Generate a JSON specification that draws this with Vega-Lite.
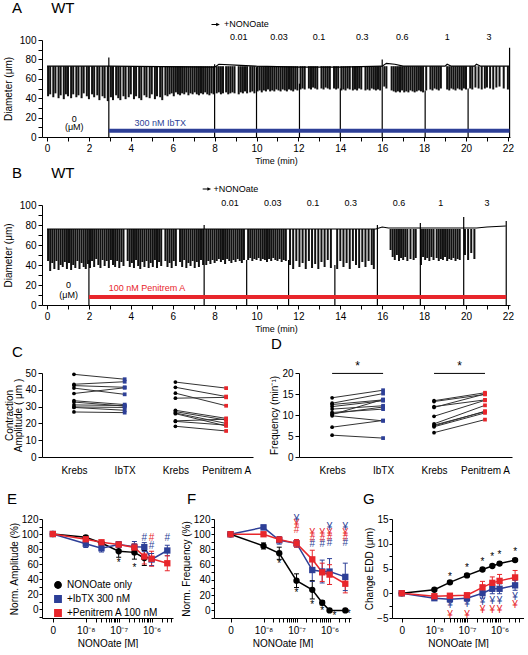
{
"$schema": "https://vega.github.io/schema/vega-lite/v6.json",
"padding": {"left": 3, "top": 1, "right": 0, "bottom": 0},
"background": "white",
"config": {
  "font": "Liberation Sans",
  "view": {"stroke": null},
  "axis": {"domainColor": "black", "tickColor": "black", "labelColor": "black", "titleColor": "black", "grid": false, "labelFontSize": 10, "titleFontSize": 10, "titleFontWeight": "normal", "tickSize": 4, "domainWidth": 1, "tickWidth": 1, "labelFont": "Liberation Sans", "titleFont": "Liberation Sans", "labelOverlap": false, "labelBound": false},
  "title": {"fontSize": 15, "fontWeight": "normal", "anchor": "start", "frame": "group", "font": "Liberation Sans", "color": "black"},
  "legend": {"labelFont": "Liberation Sans"}
},
"datasets": {
  "traceA": [
    {"t":0.05,"lo":42},{"t":0.15,"lo":44},{"t":0.3,"lo":41},{"t":0.4,"lo":45},{"t":0.55,"lo":40},{"t":0.65,"lo":43},{"t":0.8,"lo":39},{"t":0.9,"lo":44},{"t":1.0,"lo":42},{"t":1.15,"lo":40},{"t":1.25,"lo":44},{"t":1.4,"lo":41},{"t":1.5,"lo":43},{"t":1.65,"lo":40},{"t":1.75,"lo":45},{"t":1.9,"lo":42},{"t":2.0,"lo":39},{"t":2.15,"lo":44},{"t":2.25,"lo":41},{"t":2.4,"lo":43},{"t":2.5,"lo":38},{"t":2.65,"lo":42},{"t":2.75,"lo":40},{"t":2.9,"lo":37},
    {"t":3.05,"lo":41},{"t":3.15,"lo":38},{"t":3.3,"lo":43},{"t":3.4,"lo":40},{"t":3.5,"lo":38},{"t":3.65,"lo":42},{"t":3.75,"lo":39},{"t":3.9,"lo":41},{"t":4.0,"lo":44},{"t":4.15,"lo":39},{"t":4.25,"lo":42},{"t":4.4,"lo":40},{"t":4.5,"lo":38},{"t":4.65,"lo":43},{"t":4.75,"lo":41},{"t":4.9,"lo":40},{"t":5.0,"lo":44},{"t":5.15,"lo":39},{"t":5.25,"lo":42},{"t":5.4,"lo":41},{"t":5.5,"lo":38},{"t":5.65,"lo":43},{"t":5.75,"lo":42},
    {"t":5.85,"lo":44},{"t":5.95,"lo":45},{"t":6.05,"lo":42},{"t":6.15,"lo":46},{"t":6.25,"lo":44},{"t":6.35,"lo":43},{"t":6.45,"lo":45},{"t":6.55,"lo":44},{"t":6.65,"lo":46},{"t":6.75,"lo":43},{"t":6.85,"lo":45},{"t":6.95,"lo":44},{"t":7.05,"lo":46},{"t":7.15,"lo":44},{"t":7.25,"lo":43},{"t":7.35,"lo":45},{"t":7.45,"lo":44},{"t":7.55,"lo":46},{"t":7.65,"lo":44},{"t":7.75,"lo":43},{"t":7.85,"lo":45},{"t":7.95,"lo":44},
    {"t":8.1,"lo":45},{"t":8.2,"lo":46},{"t":8.3,"lo":44},{"t":8.4,"lo":45},{"t":8.55,"lo":46},{"t":8.65,"lo":44},{"t":8.75,"lo":45},{"t":8.85,"lo":46},{"t":8.95,"lo":45},{"t":9.15,"lo":44},{"t":9.25,"lo":46},{"t":9.35,"lo":45},{"t":9.45,"lo":47},{"t":9.55,"lo":45},{"t":9.7,"lo":46},{"t":9.8,"lo":47},{"t":9.9,"lo":45},
    {"t":10.05,"lo":47},{"t":10.15,"lo":48},{"t":10.25,"lo":46},{"t":10.35,"lo":48},{"t":10.45,"lo":47},{"t":10.55,"lo":49},{"t":10.65,"lo":47},{"t":10.75,"lo":48},{"t":10.85,"lo":47},{"t":10.95,"lo":49},{"t":11.05,"lo":48},{"t":11.15,"lo":47},{"t":11.25,"lo":49},{"t":11.35,"lo":48},{"t":11.45,"lo":47},{"t":11.55,"lo":49},{"t":11.65,"lo":48},{"t":11.75,"lo":47},{"t":11.85,"lo":49},{"t":11.95,"lo":48},
    {"t":12.1,"lo":49},{"t":12.2,"lo":50},{"t":12.3,"lo":49},{"t":12.5,"lo":50},{"t":12.6,"lo":49},{"t":12.7,"lo":51},{"t":12.8,"lo":50},{"t":12.9,"lo":49},{"t":13.1,"lo":50},{"t":13.2,"lo":49},{"t":13.3,"lo":51},{"t":13.4,"lo":50},{"t":13.5,"lo":49},{"t":13.7,"lo":50},{"t":13.8,"lo":49},{"t":13.9,"lo":50},
    {"t":14.05,"lo":48},{"t":14.15,"lo":49},{"t":14.25,"lo":48},{"t":14.35,"lo":50},{"t":14.45,"lo":49},{"t":14.6,"lo":48},{"t":14.7,"lo":49},{"t":14.8,"lo":48},{"t":14.9,"lo":50},{"t":15.0,"lo":49},{"t":15.2,"lo":48},{"t":15.3,"lo":49},{"t":15.4,"lo":48},{"t":15.5,"lo":50},{"t":15.6,"lo":49},{"t":15.7,"lo":48},{"t":15.8,"lo":49},{"t":15.9,"lo":48},
    {"t":16.1,"lo":52},{"t":16.2,"lo":50},{"t":16.45,"lo":48},{"t":16.55,"lo":47},{"t":16.65,"lo":46},{"t":16.75,"lo":47},{"t":16.85,"lo":46},{"t":16.95,"lo":48},{"t":17.05,"lo":46},{"t":17.15,"lo":47},{"t":17.25,"lo":46},{"t":17.35,"lo":48},{"t":17.45,"lo":47},{"t":17.55,"lo":46},{"t":17.65,"lo":47},{"t":17.75,"lo":48},{"t":17.85,"lo":47},{"t":17.95,"lo":46},
    {"t":18.1,"lo":48},{"t":18.3,"lo":49},{"t":18.4,"lo":48},{"t":18.5,"lo":50},{"t":18.6,"lo":49},{"t":18.7,"lo":48},{"t":18.8,"lo":50},{"t":19.1,"lo":49},{"t":19.2,"lo":48},{"t":19.3,"lo":50},{"t":19.4,"lo":49},{"t":19.5,"lo":48},{"t":19.6,"lo":50},{"t":19.7,"lo":49},{"t":19.8,"lo":48},{"t":19.9,"lo":50},{"t":20.0,"lo":49},
    {"t":20.2,"lo":50},{"t":20.3,"lo":49},{"t":20.45,"lo":51},{"t":20.6,"lo":50},{"t":20.75,"lo":49},{"t":20.9,"lo":50},{"t":21.0,"lo":51},{"t":21.15,"lo":50},{"t":21.3,"lo":49},{"t":21.45,"lo":51},{"t":21.6,"lo":52},{"t":21.8,"lo":50},{"t":22.0,"lo":49}
  ],
  "topA": [{"t":0,"d":73},{"t":3,"d":73},{"t":8.0,"d":72},{"t":8.2,"d":75},{"t":9,"d":74},{"t":10,"d":73},{"t":12,"d":72},{"t":14,"d":72},{"t":16,"d":73},{"t":16.2,"d":76},{"t":16.6,"d":75},{"t":17,"d":73},{"t":19,"d":73},{"t":19.1,"d":75},{"t":19.3,"d":73},{"t":20.4,"d":73},{"t":20.5,"d":75},{"t":20.7,"d":73},{"t":22.1,"d":73}],
  "vlA": [{"t":2.95,"top":82},{"t":8.0,"top":75},{"t":10.0,"top":72},{"t":12.05,"top":55},{"t":14.0,"top":50},{"t":16.0,"top":80},{"t":18.05,"top":48},{"t":20.1,"top":50},{"t":22.08,"top":92}],
  "barA": [{"t0":2.95,"t1":22.08,"v":6.5}],
  "concA": [{"t":9.15,"v":103,"l":"0.01"},{"t":11.07,"v":103,"l":"0.03"},{"t":12.98,"v":103,"l":"0.1"},{"t":15.05,"v":103,"l":"0.3"},{"t":16.96,"v":103,"l":"0.6"},{"t":19.1,"v":103,"l":"1"},{"t":21.1,"v":103,"l":"3"},{"t":1.3,"v":19,"l":"0"},{"t":1.3,"v":10,"l":"(μM)"}],
  "nonoA": [{"t":8.45,"v":116,"l":"+NONOate"}],
  "arrowA": [{"t":8.05,"v":116}],
  "drugA": [{"t":5.4,"v":14.7,"l":"300 nM IbTX"}],
  "traceB": [
    {"t":0.05,"lo":44},{"t":0.15,"lo":34},{"t":0.25,"lo":42},{"t":0.35,"lo":36},{"t":0.45,"lo":44},{"t":0.55,"lo":35},{"t":0.65,"lo":40},{"t":0.75,"lo":38},{"t":0.85,"lo":43},{"t":0.95,"lo":36},{"t":1.05,"lo":42},{"t":1.15,"lo":35},{"t":1.25,"lo":40},{"t":1.35,"lo":37},{"t":1.45,"lo":44},{"t":1.55,"lo":36},{"t":1.65,"lo":42},{"t":1.75,"lo":38},{"t":1.85,"lo":36},{"t":1.95,"lo":41},
    {"t":2.05,"lo":37},{"t":2.15,"lo":44},{"t":2.25,"lo":38},{"t":2.35,"lo":46},{"t":2.45,"lo":40},{"t":2.55,"lo":37},{"t":2.65,"lo":45},{"t":2.75,"lo":39},{"t":2.85,"lo":44},{"t":2.95,"lo":37},{"t":3.05,"lo":45},{"t":3.15,"lo":40},{"t":3.25,"lo":38},{"t":3.35,"lo":44},{"t":3.45,"lo":37},{"t":3.55,"lo":43},{"t":3.65,"lo":39},{"t":3.85,"lo":44},{"t":3.95,"lo":38},{"t":4.05,"lo":42},{"t":4.15,"lo":37},{"t":4.25,"lo":45},{"t":4.35,"lo":39},{"t":4.45,"lo":36},{"t":4.55,"lo":43},{"t":4.65,"lo":38},{"t":4.75,"lo":44},{"t":4.85,"lo":37},{"t":4.95,"lo":42},{"t":5.05,"lo":38},{"t":5.15,"lo":45},{"t":5.25,"lo":37},{"t":5.35,"lo":43},{"t":5.45,"lo":39},{"t":5.65,"lo":44},{"t":5.75,"lo":38},{"t":5.85,"lo":42},{"t":5.95,"lo":37},{"t":6.05,"lo":44},{"t":6.15,"lo":39},{"t":6.35,"lo":43},{"t":6.45,"lo":38},{"t":6.55,"lo":45},{"t":6.65,"lo":37},{"t":6.75,"lo":42},{"t":6.85,"lo":39},{"t":6.95,"lo":44},{"t":7.05,"lo":37},{"t":7.15,"lo":43},{"t":7.25,"lo":38},{"t":7.35,"lo":45},{"t":7.45,"lo":40},
    {"t":7.6,"lo":40},{"t":7.7,"lo":44},{"t":7.8,"lo":41},{"t":7.9,"lo":45},{"t":8.0,"lo":42},{"t":8.1,"lo":44},{"t":8.2,"lo":46},{"t":8.3,"lo":43},{"t":8.4,"lo":45},{"t":8.5,"lo":41},{"t":8.6,"lo":46},{"t":8.7,"lo":44},{"t":8.8,"lo":42},{"t":8.9,"lo":45},{"t":9.0,"lo":43},{"t":9.1,"lo":46},{"t":9.2,"lo":44},{"t":9.3,"lo":42},{"t":9.4,"lo":45},
    {"t":9.6,"lo":45},{"t":9.7,"lo":47},{"t":9.8,"lo":44},{"t":9.9,"lo":46},{"t":10.0,"lo":45},{"t":10.1,"lo":47},{"t":10.2,"lo":44},{"t":10.3,"lo":46},{"t":10.4,"lo":45},{"t":10.5,"lo":43},{"t":10.6,"lo":46},{"t":10.7,"lo":44},{"t":10.8,"lo":47},{"t":10.9,"lo":45},{"t":11.0,"lo":44},{"t":11.1,"lo":46},{"t":11.2,"lo":43},{"t":11.3,"lo":45},{"t":11.4,"lo":44},
    {"t":11.6,"lo":40},{"t":11.75,"lo":36},{"t":11.9,"lo":44},{"t":12.05,"lo":38},{"t":12.2,"lo":42},{"t":12.35,"lo":36},{"t":12.5,"lo":44},{"t":12.65,"lo":37},{"t":12.8,"lo":41},{"t":12.95,"lo":36},{"t":13.1,"lo":43},{"t":13.25,"lo":38},{"t":13.4,"lo":45},{"t":13.55,"lo":37},
    {"t":13.85,"lo":36},{"t":14.0,"lo":44},{"t":14.15,"lo":38},{"t":14.3,"lo":42},{"t":14.45,"lo":36},{"t":14.6,"lo":44},{"t":14.75,"lo":40},{"t":14.9,"lo":37},{"t":15.05,"lo":43},{"t":15.2,"lo":38},{"t":15.35,"lo":44},{"t":15.5,"lo":40},{"t":15.6,"lo":36},
    {"t":16.4,"lo":55},{"t":16.5,"lo":48},{"t":16.6,"lo":45},{"t":16.7,"lo":50},{"t":16.8,"lo":44},{"t":16.9,"lo":47},{"t":17.0,"lo":45},{"t":17.1,"lo":48},{"t":17.2,"lo":44},{"t":17.35,"lo":46},{"t":17.5,"lo":45},{"t":17.6,"lo":47},
    {"t":17.85,"lo":40},{"t":17.95,"lo":48},{"t":18.05,"lo":45},{"t":18.15,"lo":47},{"t":18.25,"lo":44},{"t":18.35,"lo":48},{"t":18.45,"lo":45},{"t":18.6,"lo":47},{"t":18.7,"lo":44},{"t":18.8,"lo":46},{"t":18.9,"lo":45},{"t":19.0,"lo":48},{"t":19.1,"lo":44},{"t":19.2,"lo":46},{"t":19.3,"lo":45},{"t":19.4,"lo":47},{"t":19.5,"lo":44},{"t":19.6,"lo":46},{"t":19.7,"lo":45},
    {"t":19.95,"lo":50},{"t":20.1,"lo":45},{"t":20.25,"lo":52},{"t":20.4,"lo":46}
  ],
  "topB": [{"t":0,"d":76},{"t":15.7,"d":76},{"t":16.0,"d":78},{"t":16.3,"d":77},{"t":20.5,"d":77},{"t":21.0,"d":78},{"t":21.9,"d":79}],
  "vlB": [{"t":2.0,"top":45},{"t":7.5,"top":80},{"t":9.53,"top":45},{"t":11.53,"top":45},{"t":13.74,"top":40},{"t":15.77,"top":80},{"t":17.82,"top":82},{"t":19.89,"top":88},{"t":21.92,"top":84}],
  "barB": [{"t0":2.0,"t1":21.92,"v":8}],
  "concB": [{"t":8.74,"v":102,"l":"0.01"},{"t":10.77,"v":102,"l":"0.03"},{"t":12.7,"v":102,"l":"0.1"},{"t":14.5,"v":102,"l":"0.3"},{"t":16.8,"v":102,"l":"0.6"},{"t":18.8,"v":102,"l":"1"},{"t":21.0,"v":102,"l":"3"},{"t":1.03,"v":20,"l":"0"},{"t":1.03,"v":10,"l":"(μM)"}],
  "nonoB": [{"t":7.95,"v":116,"l":"+NONOate"}],
  "arrowB": [{"t":7.63,"v":116}],
  "drugB": [{"t":4.77,"v":16.7,"l":"100 nM Penitrem A"}],
  "pairsC": [
    {"g":1,"p":1,"v":49.2,"k":"K"},{"g":1,"p":2,"v":46.3,"k":"B"},
    {"g":2,"p":1,"v":43.3,"k":"K"},{"g":2,"p":2,"v":44.8,"k":"B"},
    {"g":3,"p":1,"v":42.5,"k":"K"},{"g":3,"p":2,"v":41.5,"k":"B"},
    {"g":4,"p":1,"v":41.0,"k":"K"},{"g":4,"p":2,"v":37.3,"k":"B"},
    {"g":5,"p":1,"v":37.8,"k":"K"},{"g":5,"p":2,"v":41.2,"k":"B"},
    {"g":6,"p":1,"v":33.5,"k":"K"},{"g":6,"p":2,"v":31.2,"k":"B"},
    {"g":7,"p":1,"v":32.7,"k":"K"},{"g":7,"p":2,"v":30.3,"k":"B"},
    {"g":8,"p":1,"v":31.0,"k":"K"},{"g":8,"p":2,"v":30.6,"k":"B"},
    {"g":9,"p":1,"v":29.8,"k":"K"},{"g":9,"p":2,"v":29.5,"k":"B"},
    {"g":10,"p":1,"v":29.5,"k":"K"},{"g":10,"p":2,"v":27.8,"k":"B"},
    {"g":11,"p":1,"v":26.8,"k":"K"},{"g":11,"p":2,"v":26.4,"k":"B"},
    {"g":12,"p":3,"v":44.6,"k":"K"},{"g":12,"p":4,"v":41.0,"k":"R"},
    {"g":13,"p":3,"v":41.5,"k":"K"},{"g":13,"p":4,"v":36.0,"k":"R"},
    {"g":14,"p":3,"v":38.0,"k":"K"},{"g":14,"p":4,"v":30.5,"k":"R"},
    {"g":15,"p":3,"v":35.0,"k":"K"},{"g":15,"p":4,"v":35.5,"k":"R"},
    {"g":16,"p":3,"v":27.8,"k":"K"},{"g":16,"p":4,"v":23.0,"k":"R"},
    {"g":17,"p":3,"v":27.0,"k":"K"},{"g":17,"p":4,"v":22.0,"k":"R"},
    {"g":18,"p":3,"v":26.2,"k":"K"},{"g":18,"p":4,"v":20.0,"k":"R"},
    {"g":19,"p":3,"v":25.8,"k":"K"},{"g":19,"p":4,"v":18.5,"k":"R"},
    {"g":20,"p":3,"v":21.5,"k":"K"},{"g":20,"p":4,"v":22.5,"k":"R"},
    {"g":21,"p":3,"v":21.2,"k":"K"},{"g":21,"p":4,"v":19.0,"k":"R"},
    {"g":22,"p":3,"v":18.3,"k":"K"},{"g":22,"p":4,"v":15.5,"k":"R"}
  ],
  "pairsD": [
    {"g":1,"p":1,"v":14.1,"k":"K"},{"g":1,"p":2,"v":15.9,"k":"B"},
    {"g":2,"p":1,"v":12.8,"k":"K"},{"g":2,"p":2,"v":15.1,"k":"B"},
    {"g":3,"p":1,"v":12.5,"k":"K"},{"g":3,"p":2,"v":13.6,"k":"B"},
    {"g":4,"p":1,"v":12.0,"k":"K"},{"g":4,"p":2,"v":13.4,"k":"B"},
    {"g":5,"p":1,"v":11.4,"k":"K"},{"g":5,"p":2,"v":12.2,"k":"B"},
    {"g":6,"p":1,"v":10.6,"k":"K"},{"g":6,"p":2,"v":11.4,"k":"B"},
    {"g":7,"p":1,"v":10.1,"k":"K"},{"g":7,"p":2,"v":13.7,"k":"B"},
    {"g":8,"p":1,"v":9.8,"k":"K"},{"g":8,"p":2,"v":8.6,"k":"B"},
    {"g":9,"p":1,"v":10.3,"k":"K"},{"g":9,"p":2,"v":11.9,"k":"B"},
    {"g":10,"p":1,"v":7.1,"k":"K"},{"g":10,"p":2,"v":8.7,"k":"B"},
    {"g":11,"p":1,"v":5.2,"k":"K"},{"g":11,"p":2,"v":4.5,"k":"B"},
    {"g":12,"p":3,"v":13.4,"k":"K"},{"g":12,"p":4,"v":15.3,"k":"R"},
    {"g":13,"p":3,"v":13.2,"k":"K"},{"g":13,"p":4,"v":14.9,"k":"R"},
    {"g":14,"p":3,"v":12.0,"k":"K"},{"g":14,"p":4,"v":13.6,"k":"R"},
    {"g":15,"p":3,"v":11.8,"k":"K"},{"g":15,"p":4,"v":15.0,"k":"R"},
    {"g":16,"p":3,"v":9.7,"k":"K"},{"g":16,"p":4,"v":13.5,"k":"R"},
    {"g":17,"p":3,"v":7.9,"k":"K"},{"g":17,"p":4,"v":12.3,"k":"R"},
    {"g":18,"p":3,"v":7.6,"k":"K"},{"g":18,"p":4,"v":10.8,"k":"R"},
    {"g":19,"p":3,"v":7.2,"k":"K"},{"g":19,"p":4,"v":10.5,"k":"R"},
    {"g":20,"p":3,"v":7.4,"k":"K"},{"g":20,"p":4,"v":10.9,"k":"R"},
    {"g":21,"p":3,"v":5.8,"k":"K"},{"g":21,"p":4,"v":8.9,"k":"R"}
  ],
  "sigD": [{"x1":1,"x2":2,"y":19.9,"xm":1.5,"ys":21.6},{"x1":3,"x2":4,"y":19.9,"xm":3.5,"ys":21.6}],
  "seriesE": [
    {"x":-9,"v":100,"lo":100,"hi":100,"s":"NONOate only"},{"x":-8,"v":95.6,"lo":93.6,"hi":97.6,"s":"NONOate only"},{"x":-7.523,"v":88,"lo":85,"hi":91,"s":"NONOate only"},{"x":-7,"v":77,"lo":69,"hi":85,"s":"NONOate only"},{"x":-6.523,"v":75.5,"lo":66.5,"hi":84.5,"s":"NONOate only"},{"x":-6.222,"v":68,"lo":58,"hi":78,"s":"NONOate only"},
    {"x":-9,"v":100,"lo":100,"hi":100,"s":"+IbTX 300 nM"},{"x":-8,"v":87,"lo":82,"hi":92,"s":"+IbTX 300 nM"},{"x":-7.523,"v":81,"lo":76,"hi":86,"s":"+IbTX 300 nM"},{"x":-7,"v":86,"lo":82,"hi":90,"s":"+IbTX 300 nM"},{"x":-6.523,"v":83,"lo":76,"hi":90,"s":"+IbTX 300 nM"},{"x":-6.222,"v":82.5,"lo":76.5,"hi":88.5,"s":"+IbTX 300 nM"},{"x":-6,"v":66,"lo":58,"hi":74,"s":"+IbTX 300 nM"},{"x":-5.523,"v":78,"lo":71,"hi":85,"s":"+IbTX 300 nM"},
    {"x":-9,"v":100,"lo":100,"hi":100,"s":"+Penitrem A 100 nM"},{"x":-8,"v":93,"lo":91,"hi":95,"s":"+Penitrem A 100 nM"},{"x":-7.523,"v":89,"lo":87,"hi":91,"s":"+Penitrem A 100 nM"},{"x":-7,"v":86,"lo":83,"hi":89,"s":"+Penitrem A 100 nM"},{"x":-6.523,"v":82,"lo":77,"hi":87,"s":"+Penitrem A 100 nM"},{"x":-6.222,"v":70,"lo":60,"hi":80,"s":"+Penitrem A 100 nM"},{"x":-6,"v":67,"lo":57,"hi":77,"s":"+Penitrem A 100 nM"},{"x":-5.523,"v":61,"lo":51,"hi":71,"s":"+Penitrem A 100 nM"}
  ],
  "annE": [
    {"x":-7,"y":61,"m":"*","s":"NONOate only"},{"x":-6.523,"y":55,"m":"*","s":"NONOate only"},
    {"x":-6.222,"y":95,"m":"#","s":"+IbTX 300 nM"},{"x":-6,"y":95,"m":"#","s":"+Penitrem A 100 nM"},{"x":-6,"y":84,"m":"#","s":"+IbTX 300 nM"},{"x":-5.523,"y":95,"m":"#","s":"+IbTX 300 nM"}
  ],
  "seriesF": [
    {"x":-9,"v":100,"lo":100,"hi":100,"s":"NONOate only"},{"x":-8,"v":84.6,"lo":80.6,"hi":88.6,"s":"NONOate only"},{"x":-7.523,"v":75,"lo":67,"hi":83,"s":"NONOate only"},{"x":-7,"v":39,"lo":30,"hi":48,"s":"NONOate only"},{"x":-6.523,"v":27,"lo":15,"hi":39,"s":"NONOate only"},{"x":-6.222,"v":10,"lo":7,"hi":13,"s":"NONOate only"},{"x":-6,"v":0,"lo":-1,"hi":1,"s":"NONOate only"},{"x":-5.523,"v":0,"lo":0,"hi":0,"s":"NONOate only"},
    {"x":-9,"v":100,"lo":100,"hi":100,"s":"+IbTX 300 nM"},{"x":-8,"v":109,"lo":106,"hi":112,"s":"+IbTX 300 nM"},{"x":-7.523,"v":92,"lo":87,"hi":97,"s":"+IbTX 300 nM"},{"x":-7,"v":88,"lo":83,"hi":93,"s":"+IbTX 300 nM"},{"x":-6.523,"v":53,"lo":38,"hi":68,"s":"+IbTX 300 nM"},{"x":-6.222,"v":51,"lo":36,"hi":66,"s":"+IbTX 300 nM"},{"x":-6,"v":51,"lo":34,"hi":68,"s":"+IbTX 300 nM"},{"x":-5.523,"v":44,"lo":26,"hi":62,"s":"+IbTX 300 nM"},
    {"x":-9,"v":100,"lo":100,"hi":100,"s":"+Penitrem A 100 nM"},{"x":-8,"v":100,"lo":98,"hi":102,"s":"+Penitrem A 100 nM"},{"x":-7.523,"v":93,"lo":90,"hi":96,"s":"+Penitrem A 100 nM"},{"x":-7,"v":88,"lo":83,"hi":93,"s":"+Penitrem A 100 nM"},{"x":-6.523,"v":67,"lo":55,"hi":79,"s":"+Penitrem A 100 nM"},{"x":-6.222,"v":50,"lo":38,"hi":62,"s":"+Penitrem A 100 nM"},{"x":-6,"v":47,"lo":34,"hi":60,"s":"+Penitrem A 100 nM"},{"x":-5.523,"v":35,"lo":23,"hi":47,"s":"+Penitrem A 100 nM"}
  ],
  "annF": [
    {"x":-7.523,"y":61,"m":"*","s":"NONOate only"},{"x":-7,"y":23,"m":"*","s":"NONOate only"},{"x":-6.523,"y":7,"m":"*","s":"NONOate only"},{"x":-6.222,"y":-1,"m":"*","s":"NONOate only"},{"x":-5.85,"y":-7,"m":"*","s":"NONOate only"},{"x":-5.42,"y":-5,"m":"*","s":"NONOate only"},
    {"x":-7,"y":120,"m":"¥","s":"+IbTX 300 nM"},{"x":-7,"y":113,"m":"¥","s":"+Penitrem A 100 nM"},{"x":-7,"y":106,"m":"#","s":"+Penitrem A 100 nM"},
    {"x":-6.523,"y":101,"m":"¥","s":"+Penitrem A 100 nM"},{"x":-6.523,"y":94,"m":"#","s":"+Penitrem A 100 nM"},{"x":-6.523,"y":87,"m":"#","s":"+IbTX 300 nM"},
    {"x":-6.222,"y":101,"m":"¥","s":"+Penitrem A 100 nM"},{"x":-6.222,"y":94,"m":"#","s":"+Penitrem A 100 nM"},{"x":-6.222,"y":87,"m":"#","s":"+IbTX 300 nM"},
    {"x":-6,"y":110,"m":"¥","s":"+IbTX 300 nM"},{"x":-6,"y":102,"m":"¥","s":"+Penitrem A 100 nM"},{"x":-6,"y":95,"m":"#","s":"+Penitrem A 100 nM"},{"x":-6,"y":88,"m":"#","s":"+IbTX 300 nM"},
    {"x":-5.523,"y":110,"m":"¥","s":"+IbTX 300 nM"},{"x":-5.523,"y":102,"m":"¥","s":"+Penitrem A 100 nM"},{"x":-5.523,"y":95,"m":"#","s":"+Penitrem A 100 nM"},{"x":-5.523,"y":88,"m":"#","s":"+IbTX 300 nM"}
  ],
  "seriesG": [
    {"x":-9,"v":0,"lo":0,"hi":0,"s":"NONOate only"},{"x":-8,"v":0.7,"lo":0.5,"hi":0.9,"s":"NONOate only"},{"x":-7.523,"v":2.2,"lo":1.9,"hi":2.5,"s":"NONOate only"},{"x":-7,"v":3.6,"lo":3.3,"hi":3.9,"s":"NONOate only"},{"x":-6.523,"v":4.8,"lo":4.5,"hi":5.1,"s":"NONOate only"},{"x":-6.222,"v":5.5,"lo":5.2,"hi":5.8,"s":"NONOate only"},{"x":-6,"v":6.0,"lo":5.7,"hi":6.3,"s":"NONOate only"},{"x":-5.523,"v":6.7,"lo":6.4,"hi":7.0,"s":"NONOate only"},
    {"x":-9,"v":0,"lo":0,"hi":0,"s":"+IbTX 300 nM"},{"x":-8,"v":-1.0,"lo":-1.4,"hi":-0.6,"s":"+IbTX 300 nM"},{"x":-7.523,"v":-1.2,"lo":-1.8,"hi":-0.6,"s":"+IbTX 300 nM"},{"x":-7,"v":-1.0,"lo":-1.6,"hi":-0.4,"s":"+IbTX 300 nM"},{"x":-6.523,"v":0,"lo":-1,"hi":1,"s":"+IbTX 300 nM"},{"x":-6.222,"v":0.9,"lo":-0.1,"hi":1.9,"s":"+IbTX 300 nM"},{"x":-6,"v":0.9,"lo":-0.1,"hi":1.9,"s":"+IbTX 300 nM"},{"x":-5.523,"v":1.6,"lo":0.6,"hi":2.6,"s":"+IbTX 300 nM"},
    {"x":-9,"v":0,"lo":0,"hi":0,"s":"+Penitrem A 100 nM"},{"x":-8,"v":-0.6,"lo":-0.9,"hi":-0.3,"s":"+Penitrem A 100 nM"},{"x":-7.523,"v":-0.5,"lo":-0.8,"hi":-0.2,"s":"+Penitrem A 100 nM"},{"x":-7,"v":-0.4,"lo":-0.8,"hi":0,"s":"+Penitrem A 100 nM"},{"x":-6.523,"v":1.2,"lo":0,"hi":2.4,"s":"+Penitrem A 100 nM"},{"x":-6.222,"v":2.1,"lo":0.9,"hi":3.3,"s":"+Penitrem A 100 nM"},{"x":-6,"v":2.5,"lo":1.2,"hi":3.8,"s":"+Penitrem A 100 nM"},{"x":-5.523,"v":3.2,"lo":1.8,"hi":4.6,"s":"+Penitrem A 100 nM"}
  ],
  "annG": [
    {"x":-7.523,"y":3.3,"m":"*","s":"NONOate only"},{"x":-7,"y":5.1,"m":"*","s":"NONOate only"},{"x":-6.523,"y":6.4,"m":"*","s":"NONOate only"},{"x":-6.222,"y":7.3,"m":"*","s":"NONOate only"},{"x":-6,"y":7.7,"m":"*","s":"NONOate only"},{"x":-5.523,"y":8.4,"m":"*","s":"NONOate only"},
    {"x":-7.523,"y":-2.4,"m":"¥","s":"+IbTX 300 nM"},{"x":-7,"y":-2.2,"m":"¥","s":"+IbTX 300 nM"},{"x":-6.523,"y":-1.8,"m":"¥","s":"+IbTX 300 nM"},{"x":-6.222,"y":-1.6,"m":"¥","s":"+IbTX 300 nM"},{"x":-6,"y":-1.6,"m":"¥","s":"+IbTX 300 nM"},{"x":-5.523,"y":-0.7,"m":"¥","s":"+IbTX 300 nM"},
    {"x":-7.523,"y":-4.3,"m":"¥","s":"+Penitrem A 100 nM"},{"x":-7,"y":-4.3,"m":"¥","s":"+Penitrem A 100 nM"},{"x":-6.523,"y":-3.3,"m":"¥","s":"+Penitrem A 100 nM"},{"x":-6.222,"y":-3.3,"m":"¥","s":"+Penitrem A 100 nM"},{"x":-6,"y":-3.3,"m":"¥","s":"+Penitrem A 100 nM"},{"x":-5.523,"y":-2.3,"m":"¥","s":"+Penitrem A 100 nM"}
  ]
},
"bounds": "flush",
"spacing": 68,
"resolve": {"scale": {"color": "independent", "shape": "independent"}, "legend": {"color": "independent", "shape": "independent"}},
"vconcat": [
  {
    "width": 468, "height": 97,
    "title": {"text": "A\u00a0\u00a0\u00a0\u00a0\u00a0\u00a0\u00a0WT", "dx": -30, "offset": 4},
    "encoding": {
      "x": {"field": "t", "type": "quantitative", "scale": {"domain": [-0.24, 22.1], "nice": false, "zero": false}, "axis": {"title": "Time (min)", "values": [0,1,2,3,4,5,6,7,8,9,10,11,12,13,14,15,16,17,18,19,20,21,22], "labelExpr": "datum.value % 2 == 0 ? datum.label : ''", "labelOverlap": false, "titleFontSize": 9, "titlePadding": 3, "labelPadding": 2}},
      "y": {"field": "lo", "type": "quantitative", "scale": {"domain": [0, 100], "nice": false}, "axis": {"title": "Diameter (μm)", "values": [0,10,20,30,40,50,60,70,80,90,100], "labelExpr": "datum.value % 20 == 0 ? datum.label : ''", "labelOverlap": false, "titlePadding": 6, "labelPadding": 2}}
    },
    "layer": [
      {"data": {"name": "traceA"}, "mark": {"type": "rule", "color": "#111111", "strokeWidth": 2}, "encoding": {"y2": {"datum": 73}}},
      {"data": {"name": "topA"}, "mark": {"type": "line", "color": "black", "strokeWidth": 1.2}, "encoding": {"y": {"field": "d", "type": "quantitative"}}},
      {"data": {"name": "vlA"}, "mark": {"type": "rule", "color": "black", "strokeWidth": 1.2}, "encoding": {"y": {"field": "top", "type": "quantitative"}, "y2": {"datum": 0}}},
      {"data": {"name": "barA"}, "mark": {"type": "rule", "color": "#2d3f97", "strokeWidth": 4}, "encoding": {"x": {"field": "t0", "type": "quantitative"}, "x2": {"field": "t1"}, "y": {"field": "v", "type": "quantitative"}}},
      {"data": {"name": "concA"}, "mark": {"type": "text", "fontSize": 9, "color": "black"}, "encoding": {"y": {"field": "v", "type": "quantitative"}, "text": {"field": "l", "type": "nominal"}}},
      {"data": {"name": "nonoA"}, "mark": {"type": "text", "fontSize": 9, "color": "black", "align": "left"}, "encoding": {"y": {"field": "v", "type": "quantitative"}, "text": {"field": "l", "type": "nominal"}}},
      {"data": {"name": "arrowA"}, "mark": {"type": "point", "shape": "arrow", "angle": 90, "filled": true, "color": "black", "size": 70, "opacity": 1}, "encoding": {"y": {"field": "v", "type": "quantitative"}}},
      {"data": {"name": "drugA"}, "mark": {"type": "text", "fontSize": 9, "color": "#2d3f97"}, "encoding": {"y": {"field": "v", "type": "quantitative"}, "text": {"field": "l", "type": "nominal"}}}
    ]
  },
  {
    "width": 468, "height": 100,
    "title": {"text": "B\u00a0\u00a0\u00a0\u00a0\u00a0\u00a0\u00a0WT", "dx": -30, "offset": 4},
    "encoding": {
      "x": {"field": "t", "type": "quantitative", "scale": {"domain": [-0.24, 22.1], "nice": false, "zero": false}, "axis": {"title": "Time (min)", "values": [0,1,2,3,4,5,6,7,8,9,10,11,12,13,14,15,16,17,18,19,20,21,22], "labelExpr": "datum.value % 2 == 0 ? datum.label : ''", "labelOverlap": false, "titleFontSize": 9, "titlePadding": 3, "labelPadding": 2}},
      "y": {"field": "lo", "type": "quantitative", "scale": {"domain": [0, 100], "nice": false}, "axis": {"title": "Diameter (μm)", "values": [0,10,20,30,40,50,60,70,80,90,100], "labelExpr": "datum.value % 20 == 0 ? datum.label : ''", "labelOverlap": false, "titlePadding": 6, "labelPadding": 2}}
    },
    "layer": [
      {"data": {"name": "traceB"}, "mark": {"type": "rule", "color": "#111111", "strokeWidth": 2}, "encoding": {"y2": {"datum": 76}}},
      {"data": {"name": "topB"}, "mark": {"type": "line", "color": "black", "strokeWidth": 1.2}, "encoding": {"y": {"field": "d", "type": "quantitative"}}},
      {"data": {"name": "vlB"}, "mark": {"type": "rule", "color": "black", "strokeWidth": 1.2}, "encoding": {"y": {"field": "top", "type": "quantitative"}, "y2": {"datum": 0}}},
      {"data": {"name": "barB"}, "mark": {"type": "rule", "color": "#e8262b", "strokeWidth": 4}, "encoding": {"x": {"field": "t0", "type": "quantitative"}, "x2": {"field": "t1"}, "y": {"field": "v", "type": "quantitative"}}},
      {"data": {"name": "concB"}, "mark": {"type": "text", "fontSize": 9, "color": "black"}, "encoding": {"y": {"field": "v", "type": "quantitative"}, "text": {"field": "l", "type": "nominal"}}},
      {"data": {"name": "nonoB"}, "mark": {"type": "text", "fontSize": 9, "color": "black", "align": "left"}, "encoding": {"y": {"field": "v", "type": "quantitative"}, "text": {"field": "l", "type": "nominal"}}},
      {"data": {"name": "arrowB"}, "mark": {"type": "point", "shape": "arrow", "angle": 90, "filled": true, "color": "black", "size": 70, "opacity": 1}, "encoding": {"y": {"field": "v", "type": "quantitative"}}},
      {"data": {"name": "drugB"}, "mark": {"type": "text", "fontSize": 9, "color": "#e8262b"}, "encoding": {"y": {"field": "v", "type": "quantitative"}, "text": {"field": "l", "type": "nominal"}}}
    ]
  },
  {
    "bounds": "flush",
    "spacing": 46,
    "resolve": {"scale": {"color": "independent", "shape": "independent"}, "legend": {"color": "independent", "shape": "independent"}},
    "hconcat": [
      {
        "width": 211, "height": 84,
        "title": {"text": "C", "dx": -30, "offset": 8},
        "data": {"name": "pairsC"},
        "encoding": {
          "x": {"field": "p", "type": "quantitative", "scale": {"domain": [0.37, 4.53], "nice": false, "zero": false}, "axis": {"title": null, "values": [1,2,3,4], "ticks": false, "labelPadding": 8, "labelOverlap": false, "labelExpr": "datum.value == 1 ? 'Krebs' : datum.value == 2 ? 'IbTX' : datum.value == 3 ? 'Krebs' : 'Penitrem A'"}},
          "y": {"field": "v", "type": "quantitative", "scale": {"domain": [0, 50], "nice": false}, "axis": {"title": ["Contraction", "Amplitude ( μm )"], "values": [0,10,20,30,40,50], "labelOverlap": false, "titlePadding": 1, "labelPadding": 2, "titleLineHeight": 9}}
        },
        "layer": [
          {"mark": {"type": "line", "color": "#333333", "strokeWidth": 1}, "encoding": {"detail": {"field": "g", "type": "nominal"}}},
          {"mark": {"type": "point", "filled": true, "size": 14, "opacity": 1}, "encoding": {
            "color": {"field": "k", "type": "nominal", "scale": {"domain": ["K","B","R"], "range": ["#000000","#2d3f97","#e8262b"]}, "legend": null},
            "shape": {"field": "k", "type": "nominal", "scale": {"domain": ["K","B","R"], "range": ["circle","square","square"]}, "legend": null}}}
        ]
      },
      {
        "width": 213, "height": 84,
        "title": {"text": "D", "dx": -28, "offset": 8},
        "encoding": {
          "x": {"field": "p", "type": "quantitative", "scale": {"domain": [0.35, 4.53], "nice": false, "zero": false}, "axis": {"title": null, "values": [1,2,3,4], "ticks": false, "labelPadding": 8, "labelOverlap": false, "labelExpr": "datum.value == 1 ? 'Krebs' : datum.value == 2 ? 'IbTX' : datum.value == 3 ? 'Krebs' : 'Penitrem A'"}},
          "y": {"field": "v", "type": "quantitative", "scale": {"domain": [0, 20], "nice": false}, "axis": {"title": "Frequency (min⁻¹)", "values": [0,5,10,15,20], "labelOverlap": false, "titlePadding": 2, "labelPadding": 2}}
        },
        "layer": [
          {"data": {"name": "pairsD"}, "mark": {"type": "line", "color": "#333333", "strokeWidth": 1}, "encoding": {"detail": {"field": "g", "type": "nominal"}}},
          {"data": {"name": "pairsD"}, "mark": {"type": "point", "filled": true, "size": 14, "opacity": 1}, "encoding": {
            "color": {"field": "k", "type": "nominal", "scale": {"domain": ["K","B","R"], "range": ["#000000","#2d3f97","#e8262b"]}, "legend": null},
            "shape": {"field": "k", "type": "nominal", "scale": {"domain": ["K","B","R"], "range": ["circle","square","square"]}, "legend": null}}},
          {"data": {"name": "sigD"}, "mark": {"type": "rule", "color": "black", "strokeWidth": 1}, "encoding": {"x": {"field": "x1", "type": "quantitative"}, "x2": {"field": "x2"}, "y": {"field": "y", "type": "quantitative"}}},
          {"data": {"name": "sigD"}, "mark": {"type": "text", "text": "*", "fontSize": 12, "color": "black"}, "encoding": {"x": {"field": "xm", "type": "quantitative"}, "y": {"field": "ys", "type": "quantitative"}}}
        ]
      }
    ]
  },
  {
    "width": 10, "height": 10,
    "data": {"values": []},
    "mark": {"type": "rule", "opacity": 0},
    "encoding": {}
  },
  {
    "bounds": "flush",
    "spacing": 41,
    "resolve": {"scale": {"color": "independent", "shape": "independent"}, "legend": {"color": "independent", "shape": "independent"}},
    "hconcat": [
      {
        "width": 131, "height": 99,
        "title": {"text": "E", "dx": -35, "offset": 7},
        "encoding": {
          "x": {"field": "x", "type": "quantitative", "scale": {"domain": [-9.33, -5.35], "nice": false, "zero": false}, "axis": {"title": "NONOate [M]", "values": [-9,-8,-7.699,-7.523,-7.398,-7.301,-7.222,-7.155,-7.097,-7.046,-7,-6.699,-6.523,-6.398,-6.301,-6.222,-6.155,-6.097,-6.046,-6,-5.699,-5.523,-5.398], "labelOverlap": false, "labelExpr": "datum.value == -9 ? '0' : datum.value == -8 ? '10⁻⁸' : datum.value == -7 ? '10⁻⁷' : datum.value == -6 ? '10⁻⁶' : ''", "titlePadding": 3, "labelPadding": 3}},
          "y": {"field": "v", "type": "quantitative", "scale": {"domain": [-12, 120], "nice": false}, "axis": {"title": "Norm. Amplitude (%)", "values": [-10,0,10,20,30,40,50,60,70,80,90,100,110,120], "labelExpr": "datum.value >= 0 && datum.value % 20 == 0 ? datum.label : ''", "labelOverlap": false, "titlePadding": 2, "labelPadding": 1, "tickSize": 3}}
        },
        "layer": [
          {"data": {"name": "seriesE"}, "mark": {"type": "line", "strokeWidth": 1.5}, "encoding": {"color": {"field": "s", "type": "nominal", "scale": {"domain": ["NONOate only","+IbTX 300 nM","+Penitrem A 100 nM"], "range": ["#000000","#2d3f97","#e8262b"]}}}},
          {"data": {"name": "seriesE"}, "mark": {"type": "rule", "strokeWidth": 1}, "encoding": {"y": {"field": "lo", "type": "quantitative"}, "y2": {"field": "hi"}, "color": {"field": "s", "type": "nominal"}}},
          {"data": {"name": "seriesE"}, "mark": {"type": "point", "shape": "stroke", "size": 25, "strokeWidth": 1, "opacity": 1}, "encoding": {"y": {"field": "lo", "type": "quantitative"}, "color": {"field": "s", "type": "nominal"}}},
          {"data": {"name": "seriesE"}, "mark": {"type": "point", "shape": "stroke", "size": 25, "strokeWidth": 1, "opacity": 1}, "encoding": {"y": {"field": "hi", "type": "quantitative"}, "color": {"field": "s", "type": "nominal"}}},
          {"data": {"name": "seriesE"}, "mark": {"type": "point", "filled": true, "size": 40, "opacity": 1}, "encoding": {"color": {"field": "s", "type": "nominal", "legend": {"orient": "none", "legendX": 11, "legendY": 61, "title": null, "labelFontSize": 10, "symbolSize": 40, "rowPadding": 0, "labelOffset": 4, "labelColor": "black", "padding": 0}}, "shape": {"field": "s", "type": "nominal", "scale": {"domain": ["NONOate only","+IbTX 300 nM","+Penitrem A 100 nM"], "range": ["circle","square","square"]}, "legend": {"orient": "none", "legendX": 11, "legendY": 61, "title": null, "labelFontSize": 10, "symbolSize": 40, "rowPadding": 0, "labelOffset": 4, "labelColor": "black", "padding": 0}}}},
          {"data": {"name": "annE"}, "mark": {"type": "text", "fontSize": 10}, "encoding": {"y": {"field": "y", "type": "quantitative"}, "text": {"field": "m", "type": "nominal"}, "color": {"field": "s", "type": "nominal"}}}
        ]
      },
      {
        "width": 137, "height": 99,
        "title": {"text": "F", "dx": -27, "offset": 7},
        "encoding": {
          "x": {"field": "x", "type": "quantitative", "scale": {"domain": [-9.5, -5.35], "nice": false, "zero": false}, "axis": {"title": "NONOate [M]", "values": [-9,-8,-7.699,-7.523,-7.398,-7.301,-7.222,-7.155,-7.097,-7.046,-7,-6.699,-6.523,-6.398,-6.301,-6.222,-6.155,-6.097,-6.046,-6,-5.699,-5.523,-5.398], "labelOverlap": false, "labelExpr": "datum.value == -9 ? '0' : datum.value == -8 ? '10⁻⁸' : datum.value == -7 ? '10⁻⁷' : datum.value == -6 ? '10⁻⁶' : ''", "titlePadding": 3, "labelPadding": 3}},
          "y": {"field": "v", "type": "quantitative", "scale": {"domain": [-10, 120], "nice": false}, "axis": {"title": "Norm. Frequency (%)", "values": [-10,0,10,20,30,40,50,60,70,80,90,100,110,120], "labelExpr": "datum.value >= 0 && datum.value % 20 == 0 ? datum.label : ''", "labelOverlap": false, "titlePadding": 2, "labelPadding": 1, "tickSize": 3}}
        },
        "layer": [
          {"data": {"name": "seriesF"}, "mark": {"type": "line", "strokeWidth": 1.5}, "encoding": {"color": {"field": "s", "type": "nominal", "scale": {"domain": ["NONOate only","+IbTX 300 nM","+Penitrem A 100 nM"], "range": ["#000000","#2d3f97","#e8262b"]}, "legend": null}}},
          {"data": {"name": "seriesF"}, "mark": {"type": "rule", "strokeWidth": 1}, "encoding": {"y": {"field": "lo", "type": "quantitative"}, "y2": {"field": "hi"}, "color": {"field": "s", "type": "nominal", "legend": null}}},
          {"data": {"name": "seriesF"}, "mark": {"type": "point", "shape": "stroke", "size": 25, "strokeWidth": 1, "opacity": 1}, "encoding": {"y": {"field": "lo", "type": "quantitative"}, "color": {"field": "s", "type": "nominal", "legend": null}}},
          {"data": {"name": "seriesF"}, "mark": {"type": "point", "shape": "stroke", "size": 25, "strokeWidth": 1, "opacity": 1}, "encoding": {"y": {"field": "hi", "type": "quantitative"}, "color": {"field": "s", "type": "nominal", "legend": null}}},
          {"data": {"name": "seriesF"}, "mark": {"type": "point", "filled": true, "size": 40, "opacity": 1}, "encoding": {"color": {"field": "s", "type": "nominal", "legend": null}, "shape": {"field": "s", "type": "nominal", "scale": {"domain": ["NONOate only","+IbTX 300 nM","+Penitrem A 100 nM"], "range": ["circle","square","square"]}, "legend": null}}},
          {"data": {"name": "annF"}, "mark": {"type": "text", "fontSize": 10}, "encoding": {"y": {"field": "y", "type": "quantitative"}, "text": {"field": "m", "type": "nominal"}, "color": {"field": "s", "type": "nominal", "legend": null}}}
        ]
      },
      {
        "width": 132, "height": 99,
        "title": {"text": "G", "dx": -29, "offset": 7},
        "encoding": {
          "x": {"field": "x", "type": "quantitative", "scale": {"domain": [-9.3, -5.25], "nice": false, "zero": false}, "axis": {"title": "NONOate [M]", "values": [-9,-8,-7.699,-7.523,-7.398,-7.301,-7.222,-7.155,-7.097,-7.046,-7,-6.699,-6.523,-6.398,-6.301,-6.222,-6.155,-6.097,-6.046,-6,-5.699,-5.523,-5.398], "labelOverlap": false, "labelExpr": "datum.value == -9 ? '0' : datum.value == -8 ? '10⁻⁸' : datum.value == -7 ? '10⁻⁷' : datum.value == -6 ? '10⁻⁶' : ''", "titlePadding": 3, "labelPadding": 3}},
          "y": {"field": "v", "type": "quantitative", "scale": {"domain": [-5, 15], "nice": false}, "axis": {"title": "Change EDD (μm)", "values": [-5,-2.5,0,2.5,5,7.5,10,12.5,15], "labelExpr": "datum.value % 5 == 0 ? datum.label : ''", "labelOverlap": false, "titlePadding": 2, "labelPadding": 1, "tickSize": 3}}
        },
        "layer": [
          {"data": {"name": "seriesG"}, "mark": {"type": "line", "strokeWidth": 1.5}, "encoding": {"color": {"field": "s", "type": "nominal", "scale": {"domain": ["NONOate only","+IbTX 300 nM","+Penitrem A 100 nM"], "range": ["#000000","#2d3f97","#e8262b"]}, "legend": null}}},
          {"data": {"name": "seriesG"}, "mark": {"type": "rule", "strokeWidth": 1}, "encoding": {"y": {"field": "lo", "type": "quantitative"}, "y2": {"field": "hi"}, "color": {"field": "s", "type": "nominal", "legend": null}}},
          {"data": {"name": "seriesG"}, "mark": {"type": "point", "shape": "stroke", "size": 25, "strokeWidth": 1, "opacity": 1}, "encoding": {"y": {"field": "lo", "type": "quantitative"}, "color": {"field": "s", "type": "nominal", "legend": null}}},
          {"data": {"name": "seriesG"}, "mark": {"type": "point", "shape": "stroke", "size": 25, "strokeWidth": 1, "opacity": 1}, "encoding": {"y": {"field": "hi", "type": "quantitative"}, "color": {"field": "s", "type": "nominal", "legend": null}}},
          {"data": {"name": "seriesG"}, "mark": {"type": "point", "filled": true, "size": 40, "opacity": 1}, "encoding": {"color": {"field": "s", "type": "nominal", "legend": null}, "shape": {"field": "s", "type": "nominal", "scale": {"domain": ["NONOate only","+IbTX 300 nM","+Penitrem A 100 nM"], "range": ["circle","square","square"]}, "legend": null}}},
          {"data": {"name": "annG"}, "mark": {"type": "text", "fontSize": 10}, "encoding": {"y": {"field": "y", "type": "quantitative"}, "text": {"field": "m", "type": "nominal"}, "color": {"field": "s", "type": "nominal", "legend": null}}}
        ]
      }
    ]
  }
]
}
